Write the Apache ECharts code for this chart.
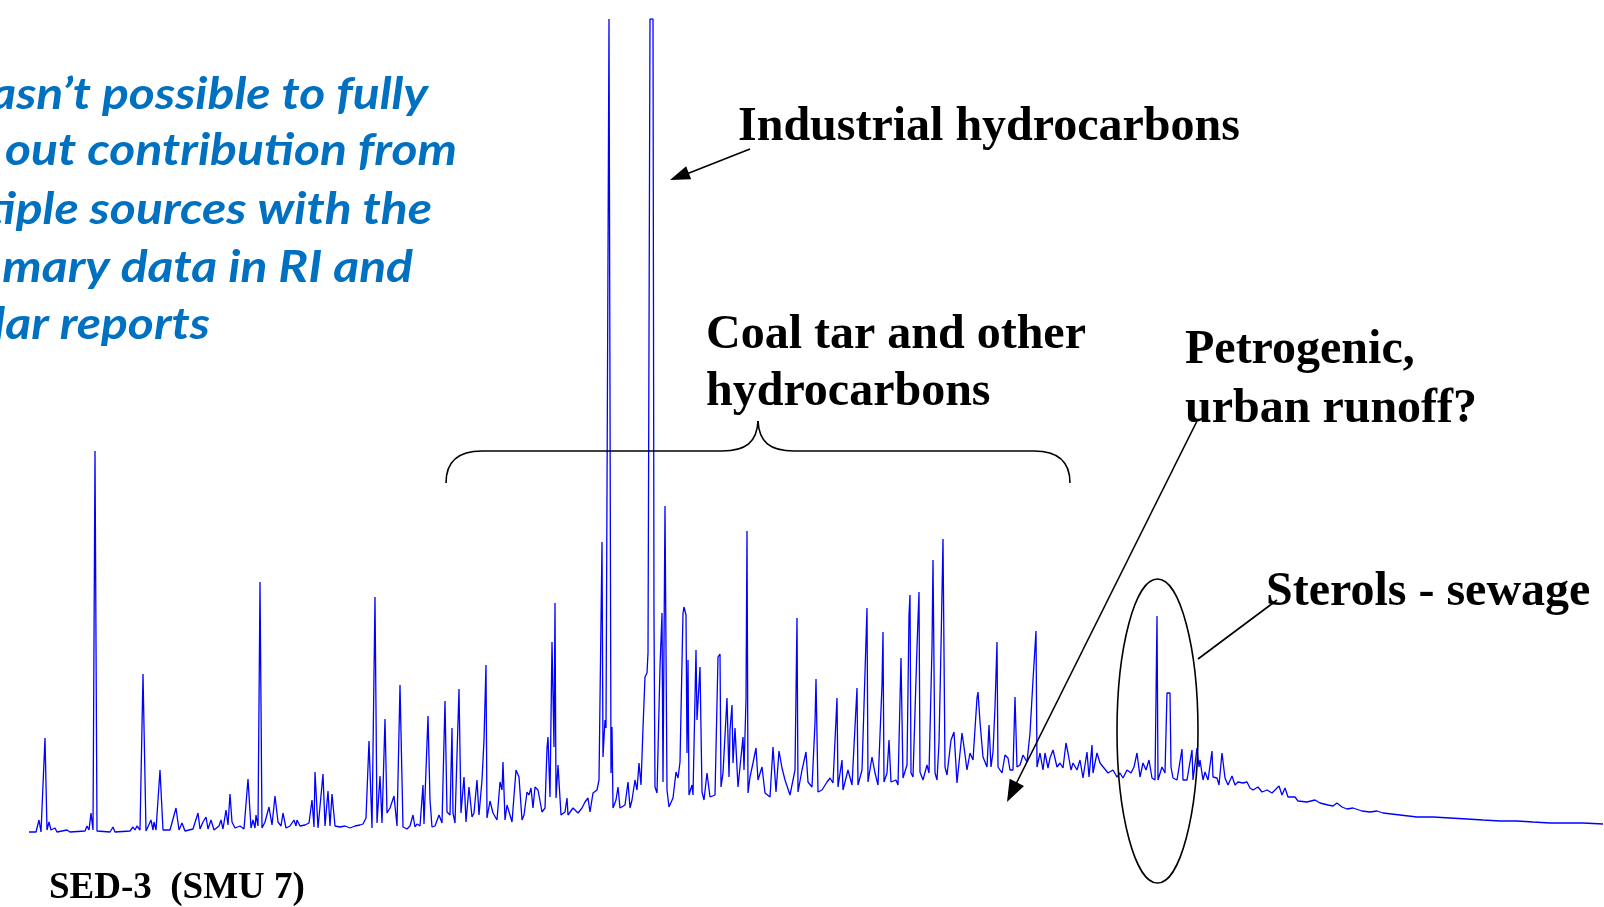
<!DOCTYPE html>
<html><head><meta charset="utf-8">
<script src="https://cdn.jsdelivr.net/npm/echarts@6/dist/echarts.min.js"></script>
<style>html,body{margin:0;padding:0;background:#fff}#c{width:1604px;height:907px}</style>
</head><body><div id="c"></div>
<script>
// ---- DATA: chromatogram trace (scan number, abundance) ----
const scanRange = [0, 1604];
const abundanceMax = 821;   // off-scale peaks are truncated at this value
const traceEarly = [
[29,8],[36,8],[39,20],[41,8],[43,10],[45,102],[47,10],[49,18],[51,10],[55,12],[57,8],[67,10],[70,8],[85,9],[87,14],[89,10],[91,27],[93,10],[95,389],[97,9],[110,8],[113,13],[115,8],[130,9],[133,13],[135,10],[137,14],[140,10],[143,166],[146,9],[151,20],[153,10],[154,18],[156,10],[160,70],[163,10],[170,10],[176,32],[179,10],[182,17],[185,9],[193,11],[198,27],[200,11],[203,18],[206,23],[208,11],[211,20],[214,10],[219,14],[221,20],[223,11],[226,30],[228,15],[230,46],[232,18],[233,20],[235,12],[240,14],[244,11],[248,61],[251,12],[253,20],[255,12],[256,25],[258,14],[260,258],[262,12],[265,18],[269,33],[272,15],[275,44],[278,18],[281,14],[283,27],[286,12],[290,14],[294,20],[296,14],[297,20],[300,14],[305,15],[309,17],[312,40],[314,13],[315,68],[318,12],[320,14],[323,66],[325,14],[328,49],[330,14],[332,46],[335,14],[340,13],[345,14],[350,12],[355,14],[360,15],[363,16],[366,22],[369,99],[372,12],[375,243],[377,17],[380,64],[382,17],[385,121],[387,27],[390,32],[394,44],[397,14],[400,155]
];
const traceMiddle = [
[403,13],[407,11],[410,14],[413,25],[415,13],[417,16],[420,14],[423,55],[424,16],[426,14],[428,124],[430,40],[432,13],[435,14],[437,15],[439,25],[442,17],[445,139],[447,28],[448,27],[450,25],[452,112],[453,27],[455,17],[457,85],[459,151],[461,27],[462,25],[464,63],[466,18],[469,53],[472,23],[474,27],[477,60],[479,25],[482,60],[484,100],[486,175],[487,22],[490,39],[493,27],[497,20],[500,58],[502,50],[503,78],[505,20],[507,35],[512,18],[516,70],[519,63],[522,20],[524,25],[527,48],[529,45],[531,52],[533,32],[535,53],[538,50],[542,28],[545,32],[547,92],[548,103],[550,43],[552,198],[554,93],[555,237],[556,42],[558,75],[561,25],[565,28],[567,42],[568,25],[573,32],[578,27],[582,32],[585,38],[588,42],[590,28],[593,47],[597,50],[599,60],[602,298],[603,83],[605,120],[606,112],[609,821],[611,67],[612,113],[613,32],[616,40],[618,53],[620,32],[622,30],[625,35],[628,58],[630,32],[632,40],[635,60],[637,50],[639,77],[641,55],[643,112],[645,163],[647,167],[648,187],[650,821],[653,821],[654,222],[655,53],[657,47],[660,173],[662,227],[663,58],[665,334],[667,50],[669,33],[673,42],[676,68],[678,62],[680,78],[683,227],[684,233],[686,225],[687,87],[688,180],[689,45],[692,55],[693,45],[696,190],[697,120],[700,173]
];
const traceLate = [
[702,48],[704,40],[707,67],[710,43],[715,45],[718,183],[720,186],[721,53],[723,67],[727,142],[729,63],[730,110],[732,135],[733,77],[735,112],[738,53],[743,103],[744,70],[746,140],[747,309],[748,47],[750,63],[753,77],[756,92],[758,60],[762,73],[765,47],[770,43],[773,93],[776,48],[779,89],[782,72],[785,60],[790,45],[795,70],[797,222],[798,48],[802,70],[806,88],[808,58],[812,53],[815,117],[816,161],[818,48],[822,50],[827,58],[830,62],[833,57],[837,142],[838,53],[842,80],[843,50],[848,70],[852,55],[857,152],[858,55],[862,70],[867,232],[868,58],[872,83],[875,67],[878,55],[882,155],[883,208],[884,58],[887,67],[889,100],[891,58],[896,60],[898,55],[901,182],[903,62],[907,75],[909,225],[910,245],[911,67],[913,63],[917,193],[919,248],[920,68],[923,60],[927,75],[929,67],[932,193],[933,280],[935,67],[937,60],[939,97],[941,193],[943,301],[945,73],[947,65],[951,100],[954,108],[957,57],[962,107],[964,93],[967,70],[970,87],[973,80],[977,142],[978,148],[980,118],[982,120],[983,83],[987,73],[989,115],[991,73],[993,88],[995,133],[997,198],[998,73],[1002,67],[1005,85],[1008,82],[1010,70],[1013,70],[1015,143],[1017,73],[1020,75],[1023,85],[1027,78],[1030,107],[1033,160],[1036,209],[1037,73],[1040,87]
];
const traceTail = [
[1043,70],[1045,87],[1048,72],[1050,82],[1053,90],[1057,73],[1060,77],[1063,72],[1066,97],[1068,87],[1071,70],[1073,77],[1077,70],[1080,80],[1083,62],[1087,88],[1089,63],[1092,95],[1093,67],[1097,87],[1100,77],[1104,72],[1108,67],[1113,70],[1117,63],[1120,67],[1123,62],[1127,70],[1131,67],[1134,73],[1137,87],[1140,63],[1143,77],[1146,70],[1149,80],[1152,62],[1155,60],[1157,224],[1158,60],[1162,73],[1165,67],[1167,147],[1170,147],[1171,73],[1173,62],[1177,60],[1182,91],[1183,60],[1187,60],[1192,90],[1193,60],[1197,92],[1199,73],[1200,80],[1203,60],[1205,68],[1208,60],[1212,89],[1213,63],[1217,62],[1219,55],[1222,87],[1225,62],[1228,55],[1232,64],[1235,55],[1238,58],[1243,57],[1247,58],[1250,52],[1253,50],[1258,53],[1262,48],[1267,50],[1272,47],[1279,54],[1282,45],[1285,52],[1288,43],[1295,43],[1298,39],[1307,38],[1315,40],[1320,37],[1328,35],[1333,34],[1337,37],[1342,33],[1347,31],[1353,32],[1362,29],[1370,28],[1377,29],[1383,27],[1400,25],[1417,23],[1433,23],[1450,22],[1467,21],[1483,20],[1500,19],[1517,19],[1533,18],[1550,17],[1567,17],[1583,17],[1603,16]
];

// ---- TEXT ----
const noteLines = ["asn\u2019t possible to fully", "out contribution from", "tiple sources with the", "mary data in RI and", "lar reports"];
const labelIndustrial = "Industrial hydrocarbons";
const labelCoal = ["Coal tar and other", "hydrocarbons"];
const labelPetro = ["Petrogenic,", "urban runoff?"];
const labelSterols = "Sterols - sewage";
const labelSample = "SED-3  (SMU 7)";

// ---- LAYOUT (annotation placement, px) ----
const noteRight = [428, 457, 432, 413, 210];
const noteMid = [95, 151, 210, 268, 325];
const serif = 'bold 48px "Liberation Serif", "Times New Roman", serif';
const blueFont = 'italic bold 43px Lato, "Open Sans", sans-serif';

const ctx = document.createElement('canvas').getContext('2d');
ctx.font = blueFont;
const blueScale = 452 / ctx.measureText(noteLines[1]).width;

function arrowHead(x1, y1, x2, y2, len, hw) {
  const dx = x2 - x1, dy = y2 - y1, L = Math.hypot(dx, dy);
  const ux = dx / L, uy = dy / L, bx = x2 - ux * len, by = y2 - uy * len;
  return [[x2, y2], [bx - uy * hw, by + ux * hw], [bx + uy * hw, by - ux * hw]];
}
const black = '#000';
function txt(t, x, y, font, fill, align, extra) {
  return Object.assign({ type: 'text', x: x, y: y, z: 10,
    style: { text: t, x: 0, y: 0, font: font, fill: fill, textAlign: align || 'left', textVerticalAlign: 'middle' } }, extra || {});
}
function ln(x1, y1, x2, y2, w) {
  return { type: 'line', z: 10, shape: { x1, y1, x2, y2 }, style: { stroke: black, lineWidth: w || 1.6 } };
}
function bz(x1, y1, cx1, cy1, cx2, cy2, x2, y2) {
  return { type: 'bezierCurve', z: 10, shape: { x1, y1, cpx1: cx1, cpy1: cy1, cpx2: cx2, cpy2: cy2, x2, y2 },
    style: { stroke: black, lineWidth: 1.6, fill: null } };
}

const elements = [];
noteLines.forEach((t, i) => elements.push(txt(t, noteRight[i], noteMid[i], blueFont, '#0070C0', 'right', { scaleX: blueScale })));
elements.push(txt(labelIndustrial, 738, 128, serif, black));
elements.push(txt(labelCoal[0], 706, 336, serif, black));
elements.push(txt(labelCoal[1], 706, 393, serif, black));
elements.push(txt(labelPetro[0], 1185, 351, serif, black));
elements.push(txt(labelPetro[1], 1185, 410, serif, black));
elements.push(txt(labelSterols, 1266, 593, serif, black));
elements.push(txt(labelSample, 49, 888, 'bold 37px "Liberation Serif", "Times New Roman", serif', black));
// industrial arrow
elements.push(ln(750, 149, 684, 175));
elements.push({ type: 'polygon', z: 10, shape: { points: arrowHead(750, 149, 670, 180, 20, 7) }, style: { fill: black } });
// petrogenic arrow
elements.push(ln(1197, 421, 1015, 786));
elements.push({ type: 'polygon', z: 10, shape: { points: arrowHead(1197, 421, 1007, 802, 22, 8) }, style: { fill: black } });
// sterols leader and ellipse
elements.push(ln(1198, 659, 1277, 600));
elements.push({ type: 'ellipse', z: 10, shape: { cx: 1157.5, cy: 731, rx: 40.5, ry: 152 }, style: { fill: null, stroke: black, lineWidth: 1.6 } });
// brace
elements.push(bz(446, 483, 446, 462, 458, 451, 482, 451));
elements.push(ln(482, 451, 722, 451));
elements.push(bz(722, 451, 746, 451, 757, 442, 758, 421));
elements.push(bz(758, 421, 759, 442, 770, 451, 794, 451));
elements.push(ln(794, 451, 1034, 451));
elements.push(bz(1034, 451, 1058, 451, 1070, 462, 1070, 483));

const chart = echarts.init(document.getElementById('c'), null, { renderer: 'canvas' });
chart.setOption({
  animation: false,
  backgroundColor: '#fff',
  grid: { left: 0, right: 0, top: 19, bottom: 67 },
  xAxis: { type: 'value', min: scanRange[0], max: scanRange[1], show: false },
  yAxis: { type: 'value', min: 0, max: abundanceMax, show: false },
  series: [{
    type: 'line', showSymbol: false, clip: true, silent: true,
    data: traceEarly.concat(traceMiddle, traceLate, traceTail),
    lineStyle: { color: '#0000FF', width: 1.3 }
  }],
  graphic: { elements: elements }
});
</script></body></html>
